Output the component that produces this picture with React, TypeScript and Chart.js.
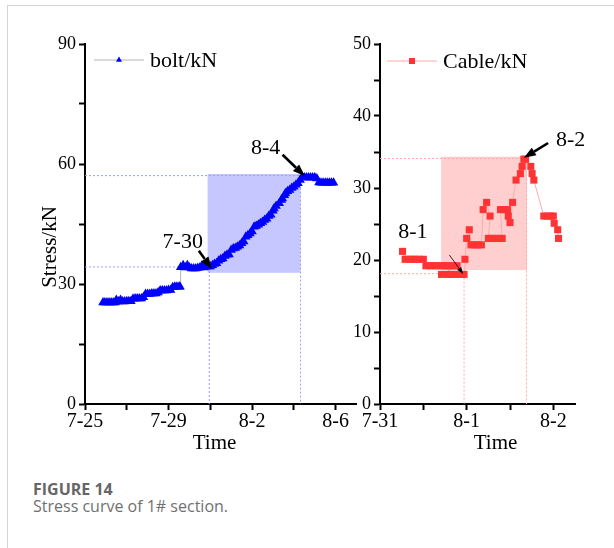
import React, { useEffect, useRef } from "react";
import { Chart, registerables } from "chart.js";

Chart.register(...registerables);

// ---------- DATA ----------
// Bolt: time in days after 7-25, stress in kN
const boltTime = [
  0.86, 0.95, 1.05, 1.15, 1.25, 1.35, 1.45,
  1.5, 1.6, 1.7, 1.8,
  1.9, 2.0, 2.1, 2.2,
  2.3, 2.4, 2.5, 2.6, 2.7, 2.8,
  2.9, 3.0, 3.1, 3.2, 3.3, 3.4, 3.5,
  3.6, 3.7, 3.8, 3.9, 4.0, 4.1,
  4.2, 4.3, 4.4, 4.5, 4.55,
  4.58, 4.7, 4.8, 4.9, 5.0, 5.1, 5.2, 5.3, 5.4, 5.5, 5.6, 5.7, 5.8, 5.9, 6.0,
  6.1, 6.2, 6.3, 6.4, 6.5, 6.6, 6.7, 6.8, 6.9, 7.0,
  7.1, 7.2, 7.3, 7.4, 7.5, 7.6, 7.7, 7.8, 7.9, 8.0,
  8.1, 8.2, 8.3, 8.4, 8.5, 8.6, 8.7, 8.8, 8.9, 9.0,
  9.05, 9.15, 9.3, 9.4, 9.45, 9.55, 9.6, 9.7, 9.8, 9.9,
  10.0, 10.1, 10.2, 10.3, 10.4,
  10.5, 10.6, 10.7, 10.8, 10.9, 11.0, 11.1,
  11.2, 11.3, 11.4, 11.5, 11.6, 11.7, 11.8, 11.9,
];
const boltStress = [
  25.4, 25.4, 25.4, 25.4, 25.4, 25.4, 25.4,
  26.0, 25.6, 26.0, 25.6,
  25.6, 25.7, 25.7, 25.7,
  26.3, 26.4, 26.4, 26.4, 26.4, 26.7,
  27.5, 27.5, 27.5, 27.6, 27.6, 27.6, 27.9,
  28.4, 28.4, 28.4, 28.4, 28.5, 28.5,
  29.2, 29.3, 29.3, 29.3, 29.3,
  34.2, 34.7, 34.1, 34.7, 34.1, 33.9, 33.9, 33.9, 34.0, 34.1, 34.6, 34.1, 34.3, 34.4, 34.4,
  34.7, 35.0, 35.2, 35.8, 36.2, 36.4, 37.0, 37.3, 37.4, 38.5,
  38.9, 39.0, 39.3, 39.6, 40.2, 40.6, 41.8, 42.2, 42.6, 43.1,
  44.3, 44.5, 44.8, 45.2, 45.5, 46.0, 46.3, 47.0, 47.3, 48.3,
  48.9, 49.5, 50.2, 51.0, 51.4, 52.2, 52.7, 53.2, 53.5, 54.0,
  54.3, 54.8, 55.2, 56.0, 56.8,
  56.6, 56.6, 56.6, 56.6, 56.6, 56.6, 56.4,
  55.4, 55.3, 55.3, 55.3, 55.3, 55.3, 55.3, 55.3,
];

// Cable: time in days after 7-31, stress in kN
const cableTime = [
  0.26,
  0.29, 0.33, 0.37, 0.41, 0.45, 0.5,
  0.53, 0.57, 0.61, 0.65, 0.69, 0.73, 0.77, 0.81, 0.85, 0.89,
  0.71,
  0.78, 0.82, 0.86, 0.9, 0.94, 0.97,
  0.98, 1.0, 1.03,
  1.05, 1.09, 1.13, 1.17,
  1.19, 1.23, 1.27,
  1.25, 1.29, 1.33, 1.37, 1.41,
  1.39, 1.43, 1.47, 1.48, 1.5, 1.53,
  1.57, 1.62, 1.64, 1.66, 1.68,
  1.74, 1.755, 1.775,
  1.89, 1.93, 1.97, 2.0,
  2.01, 2.05, 2.06,
];
const cableStress = [
  21.2,
  20.1, 20.1, 20.1, 20.1, 20.1, 20.1,
  19.2, 19.2, 19.2, 19.2, 19.2, 19.2, 19.2, 19.2, 19.2, 19.2,
  18.0,
  18.0, 18.0, 18.0, 18.0, 18.0, 18.0,
  20.1, 23.0, 24.2,
  22.1, 22.1, 22.1, 22.1,
  27.0, 28.0, 26.1,
  23.0, 23.0, 23.0, 23.0, 23.0,
  27.0, 27.0, 27.0, 26.1, 25.2, 28.0,
  31.1, 32.0, 33.0, 34.0, 34.0,
  33.0, 32.0, 31.1,
  26.1, 26.1, 26.1, 26.1,
  25.1, 24.2, 23.0,
];

// Ticks
const boltXTicks = [0, 2, 4, 6, 8, 10, 12];
const boltXLabels: Record<string, string> = { "0": "7-25", "4": "7-29", "8": "8-2", "12": "8-6" };
const boltYTicks = [0, 15, 30, 45, 60, 75, 90];
const boltYLabels: Record<string, string> = { "0": "0", "30": "30", "60": "60", "90": "90" };

const cableXTicks = [0, 0.5, 1, 1.5, 2];
const cableXLabels: Record<string, string> = { "0": "7-31", "1": "8-1", "2": "8-2" };
const cableYTicks = [0, 5, 10, 15, 20, 25, 30, 35, 40, 45, 50];
const cableYLabels: Record<string, string> = { "0": "0", "10": "10", "20": "20", "30": "30", "40": "40", "50": "50" };

// Highlight windows [xStart, xEnd, yLow, yHigh]
const boltBox = [5.87, 10.32, 32.8, 57.5];
const cableBox = [0.705, 1.696, 18.6, 34.35];
// Reference points for dashed guide lines [x, y]
const boltGuides = [[5.95, 34.25], [10.32, 57.1]];
const cableGuides = [[0.97, 18.1], [1.69, 34.1]];

// Annotations: label and arrow in data units
const boltNotes = [
  { text: "7-30", tx: 4.68, ty: 40.5, x1: 5.45, y1: 38.3, x2: 6.07, y2: 33.8, lw: 2.6 },
  { text: "8-4", tx: 8.65, ty: 64.0, x1: 9.46, y1: 62.3, x2: 10.52, y2: 57.0, lw: 2.6 },
];
const cableNotes = [
  { text: "8-1", tx: 0.38, ty: 23.8, x1: 0.8, y1: 20.7, x2: 0.96, y2: 18.05, lw: 0.8 },
  { text: "8-2", tx: 2.2, ty: 36.7, x1: 1.94, y1: 36.25, x2: 1.66, y2: 34.2, lw: 2.6 },
];

const SERIF = '"Liberation Serif", "Times New Roman", serif';

function drawArrow(ctx: CanvasRenderingContext2D, x1: number, y1: number, x2: number, y2: number, lw: number) {
  const a = Math.atan2(y2 - y1, x2 - x1);
  const hl = lw < 1.5 ? 7 : 12;
  const hw = lw < 1.5 ? 5 : 9;
  const bx = x2 - hl * Math.cos(a);
  const by = y2 - hl * Math.sin(a);
  ctx.save();
  ctx.strokeStyle = "#000";
  ctx.fillStyle = "#000";
  ctx.lineWidth = lw;
  ctx.beginPath();
  ctx.moveTo(x1, y1);
  ctx.lineTo(bx, by);
  ctx.stroke();
  ctx.beginPath();
  ctx.moveTo(x2, y2);
  ctx.lineTo(bx + (hw / 2) * Math.sin(a), by - (hw / 2) * Math.cos(a));
  ctx.lineTo(bx - (hw / 2) * Math.sin(a), by + (hw / 2) * Math.cos(a));
  ctx.closePath();
  ctx.fill();
  ctx.restore();
}

type Params = {
  time: number[];
  stress: number[];
  xTicks: number[];
  xLabels: Record<string, string>;
  yTicks: number[];
  yLabels: Record<string, string>;
  xMax: number;
  yMax: number;
  yWidth: number;
  padRight: number;
  xHeight: number;
  pointColor: string;
  lineColor: string;
  pointStyle: string;
  pointRadius: number;
  box: number[];
  boxFill: string;
  guides: number[][];
  guideColor: string;
  notes: { text: string; tx: number; ty: number; x1: number; y1: number; x2: number; y2: number; lw: number }[];
  legendText: string;
  legendX: number;
  legendY: number;
  timeX: number;
  yTitle: boolean;
};

function drawMarker(ctx: CanvasRenderingContext2D, style: string, x: number, y: number, r: number, color: string) {
  ctx.save();
  ctx.fillStyle = color;
  ctx.beginPath();
  if (style === "triangle") {
    ctx.moveTo(x, y - r);
    ctx.lineTo(x + r * 0.866, y + r * 0.5);
    ctx.lineTo(x - r * 0.866, y + r * 0.5);
  } else {
    ctx.rect(x - r, y - r, 2 * r, 2 * r);
  }
  ctx.closePath();
  ctx.fill();
  ctx.restore();
}

function makeChart(canvas: HTMLCanvasElement, p: Params) {
  const deco = {
    id: "deco",
    beforeDatasetsDraw(chart: any) {
      const ctx: CanvasRenderingContext2D = chart.ctx;
      const xs = chart.scales.x;
      const ys = chart.scales.y;
      ctx.save();
      const bx1 = xs.getPixelForValue(p.box[0]);
      const bx2 = xs.getPixelForValue(p.box[1]);
      const by1 = ys.getPixelForValue(p.box[3]);
      const by2 = ys.getPixelForValue(p.box[2]);
      ctx.fillStyle = p.boxFill;
      ctx.fillRect(bx1, by1, bx2 - bx1, by2 - by1);
      ctx.strokeStyle = p.guideColor;
      ctx.lineWidth = 1;
      ctx.setLineDash([2, 2]);
      const x0 = xs.getPixelForValue(0);
      const y0 = ys.getPixelForValue(0);
      for (const g of p.guides) {
        const gx = xs.getPixelForValue(g[0]);
        const gy = ys.getPixelForValue(g[1]);
        ctx.beginPath();
        ctx.moveTo(x0, gy);
        ctx.lineTo(gx, gy);
        ctx.moveTo(gx, gy);
        ctx.lineTo(gx, y0);
        ctx.stroke();
      }
      ctx.restore();
    },
    afterDraw(chart: any) {
      const ctx: CanvasRenderingContext2D = chart.ctx;
      const xs = chart.scales.x;
      const ys = chart.scales.y;
      ctx.save();
      ctx.fillStyle = "#000";
      ctx.font = `22px ${SERIF}`;
      ctx.textAlign = "center";
      ctx.textBaseline = "middle";
      for (const n of p.notes) {
        ctx.fillText(n.text, xs.getPixelForValue(n.tx), ys.getPixelForValue(n.ty));
        drawArrow(
          ctx,
          xs.getPixelForValue(n.x1),
          ys.getPixelForValue(n.y1),
          xs.getPixelForValue(n.x2),
          ys.getPixelForValue(n.y2),
          n.lw
        );
      }
      ctx.strokeStyle = p.lineColor;
      ctx.lineWidth = 1;
      ctx.beginPath();
      ctx.moveTo(p.legendX, p.legendY);
      ctx.lineTo(p.legendX + 50, p.legendY);
      ctx.stroke();
      drawMarker(ctx, p.pointStyle, p.legendX + 25, p.legendY, p.pointStyle === "triangle" ? 3.5 : 3, p.pointColor);
      ctx.fillStyle = "#000";
      ctx.font = `22px ${SERIF}`;
      ctx.textAlign = "left";
      ctx.fillText(p.legendText, p.legendX + 56, p.legendY + 1);
      ctx.font = `21px ${SERIF}`;
      ctx.textAlign = "center";
      ctx.fillText("Time", p.timeX, 443);
      if (p.yTitle) {
        ctx.translate(50, 247);
        ctx.rotate(-Math.PI / 2);
        ctx.fillText("Stress/kN", 0, 0);
      }
      ctx.restore();
    },
  };

  return new Chart(canvas, {
    type: "scatter",
    data: {
      datasets: [
        {
          data: p.time.map((t, i) => ({ x: t, y: p.stress[i] })),
          showLine: true,
          borderColor: p.lineColor,
          borderWidth: 1,
          pointStyle: p.pointStyle as any,
          pointRadius: p.pointRadius,
          pointBackgroundColor: p.pointColor,
          pointBorderColor: p.pointColor,
          pointBorderWidth: 0,
        },
      ],
    },
    options: {
      responsive: false,
      animation: false,
      devicePixelRatio: 1,
      layout: { padding: { left: 0, right: p.padRight, top: 44, bottom: 0 } },
      plugins: { legend: { display: false }, tooltip: { enabled: false } },
      scales: {
        x: {
          type: "linear",
          min: 0,
          max: p.xMax,
          afterBuildTicks: (s: any) => {
            s.ticks = p.xTicks.map((v) => ({ value: v }));
          },
          afterFit: (s: any) => {
            s.height = p.xHeight;
          },
          grid: { display: true, drawOnChartArea: false, drawTicks: true, tickLength: 6, tickWidth: 2, tickColor: "#000" },
          border: { display: true, color: "#000", width: 2 },
          ticks: {
            autoSkip: false,
            maxRotation: 0,
            padding: 0,
            color: "#000",
            font: { family: SERIF, size: 20 },
            callback: (v: any) => p.xLabels[String(v)] ?? "",
          },
        },
        y: {
          type: "linear",
          min: 0,
          max: p.yMax,
          afterBuildTicks: (s: any) => {
            s.ticks = p.yTicks.map((v) => ({ value: v }));
          },
          afterFit: (s: any) => {
            s.width = p.yWidth;
          },
          grid: { display: true, drawOnChartArea: false, drawTicks: true, tickLength: 6, tickWidth: 2, tickColor: "#000" },
          border: { display: true, color: "#000", width: 2 },
          ticks: {
            autoSkip: false,
            padding: 3,
            color: "#000",
            font: { family: SERIF, size: 18 },
            callback: (v: any) => p.yLabels[String(v)] ?? "",
          },
        },
      },
    },
    plugins: [deco as any],
  });
}

export default function App() {
  const leftRef = useRef<HTMLCanvasElement>(null);
  const rightRef = useRef<HTMLCanvasElement>(null);

  useEffect(() => {
    const left = makeChart(leftRef.current!, {
      time: boltTime,
      stress: boltStress,
      xTicks: boltXTicks,
      xLabels: boltXLabels,
      yTicks: boltYTicks,
      yLabels: boltYLabels,
      xMax: 13,
      yMax: 90,
      yWidth: 85,
      padRight: 5,
      xHeight: 66,
      pointColor: "#0000ff",
      lineColor: "#b4b4b4",
      pointStyle: "triangle",
      pointRadius: 5.5,
      box: boltBox,
      boxFill: "rgba(40,40,255,0.26)",
      guides: boltGuides,
      guideColor: "#9a9aff",
      notes: boltNotes,
      legendText: "bolt/kN",
      legendX: 94,
      legendY: 60,
      timeX: 214.5,
      yTitle: true,
    });
    const right = makeChart(rightRef.current!, {
      time: cableTime,
      stress: cableStress,
      xTicks: cableXTicks,
      xLabels: cableXLabels,
      yTicks: cableYTicks,
      yLabels: cableYLabels,
      xMax: 2.25,
      yMax: 50,
      yWidth: 40,
      padRight: 39,
      xHeight: 66,
      pointColor: "#ff3333",
      lineColor: "#ffaaaa",
      pointStyle: "rect",
      pointRadius: 5,
      box: cableBox,
      boxFill: "rgba(255,60,60,0.25)",
      guides: cableGuides,
      guideColor: "#ffaaaa",
      notes: cableNotes,
      legendText: "Cable/kN",
      legendX: 47,
      legendY: 61,
      timeX: 155.5,
      yTitle: false,
    });
    return () => {
      left.destroy();
      right.destroy();
    };
  }, []);

  return (
    <div style={{ position: "fixed", left: 0, top: 0, width: 614, height: 548, background: "#fff", overflow: "hidden" }}>
      <div
        style={{
          position: "absolute",
          left: 7,
          top: 5,
          width: 700,
          height: 700,
          borderLeft: "1px solid #d4d4d4",
          borderTop: "1px solid #d4d4d4",
        }}
      />
      <canvas ref={leftRef} width={362} height={470} style={{ position: "absolute", left: 0, top: 0, width: 362, height: 470 }} />
      <canvas ref={rightRef} width={274} height={470} style={{ position: "absolute", left: 340, top: 0, width: 274, height: 470 }} />
      <div
        style={{
          position: "absolute",
          left: 33,
          top: 479,
          fontFamily: '"Open Sans", "Noto Sans", sans-serif',
          fontWeight: 700,
          fontSize: 16,
          lineHeight: "20px",
          color: "#666",
          whiteSpace: "nowrap",
        }}
      >
        FIGURE 14
      </div>
      <div
        style={{
          position: "absolute",
          left: 33,
          top: 495,
          fontFamily: '"Open Sans", "Noto Sans", sans-serif',
          fontSize: 16,
          lineHeight: "22px",
          color: "#707070",
          whiteSpace: "nowrap",
        }}
      >
        Stress curve of 1# section.
      </div>
    </div>
  );
}
